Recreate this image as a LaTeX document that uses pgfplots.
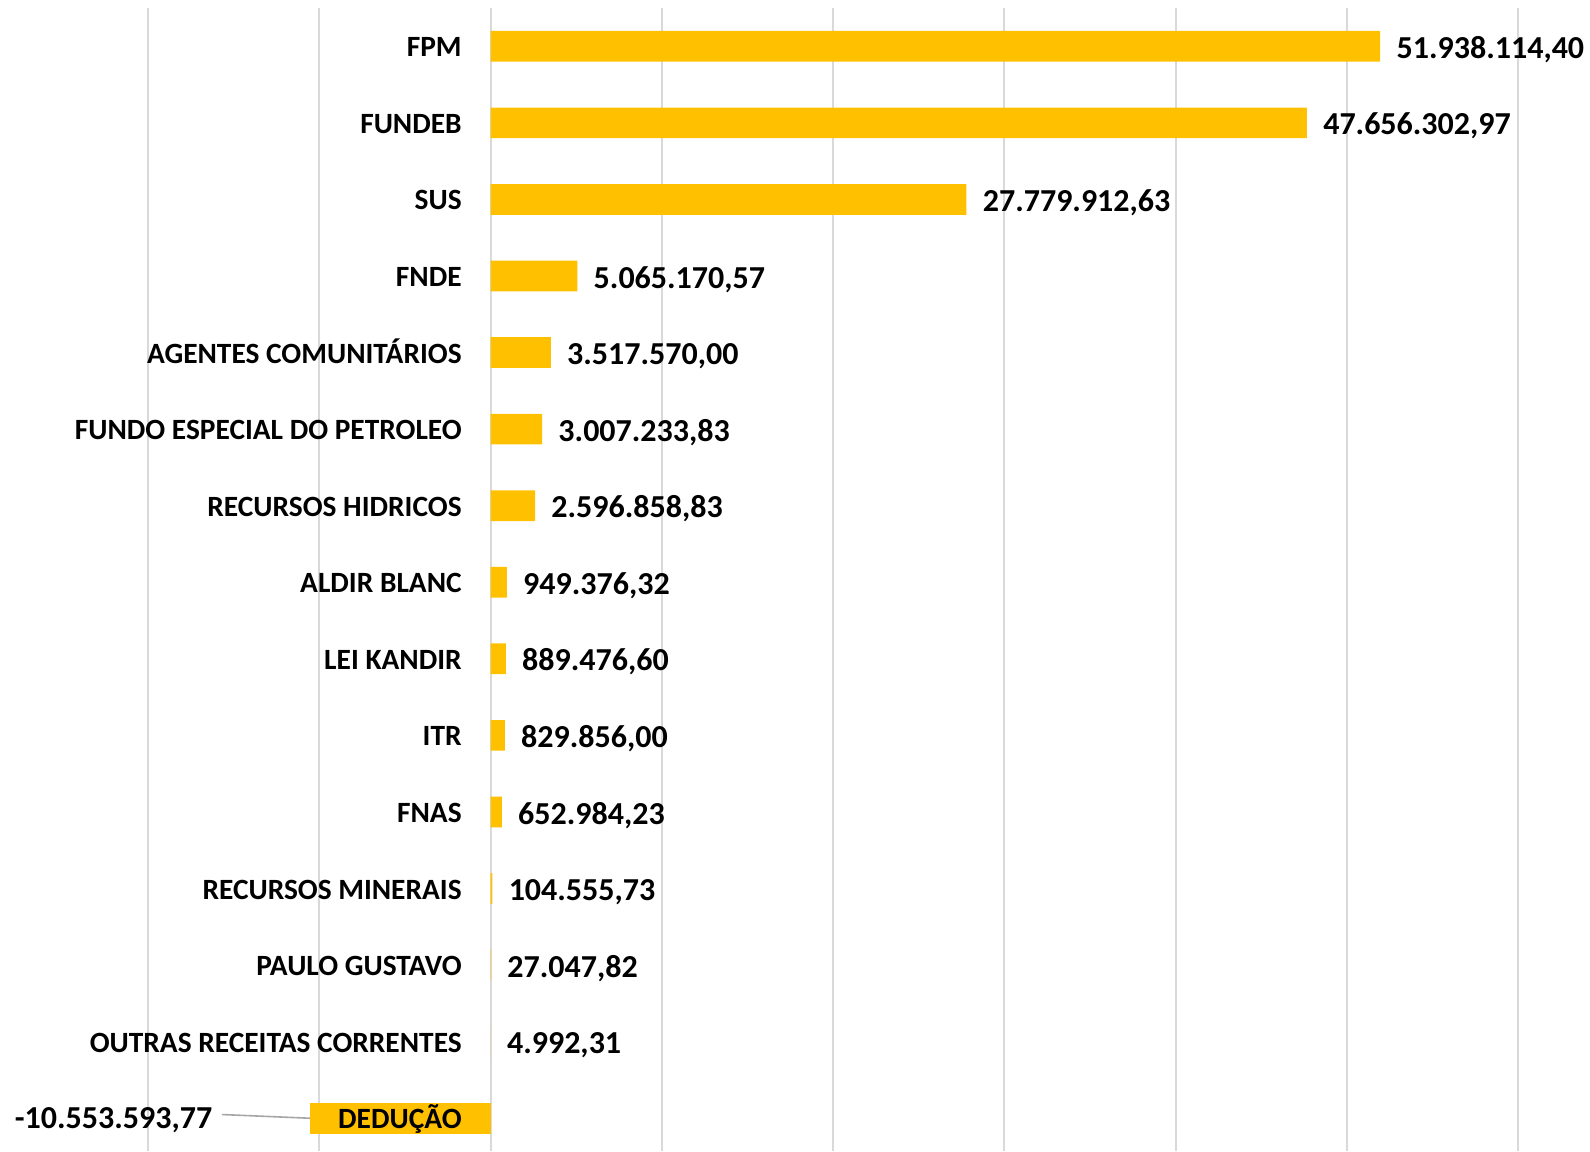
\documentclass[border=0pt]{standalone}
\usepackage{pgfplots}
\usepackage{pgfplotstable}
\pgfplotsset{compat=1.18}
\usepackage{fontspec}
\setmainfont{Carlito}
\definecolor{barc}{HTML}{FFC000}
\definecolor{gridc}{HTML}{D9D9D9}
\definecolor{leadc}{HTML}{A6A6A6}

\pgfplotstableread[col sep=semicolon]{
y;val;lbl
0;51938114.40;51.938.114,40
1;47656302.97;47.656.302,97
2;27779912.63;27.779.912,63
3;5065170.57;5.065.170,57
4;3517570.00;3.517.570,00
5;3007233.83;3.007.233,83
6;2596858.83;2.596.858,83
7;949376.32;949.376,32
8;889476.60;889.476,60
9;829856.00;829.856,00
10;652984.23;652.984,23
11;104555.73;104.555,73
12;27047.82;27.047,82
13;4992.31;4.992,31
}\datapos

\pgfplotstableread[col sep=semicolon]{
y;val;lbl
14;-10553593.77;-10.553.593,77
}\dataneg

\pgfplotstableread[col sep=semicolon]{
y;name
0;FPM
1;FUNDEB
2;SUS
3;FNDE
4;AGENTES COMUNITÁRIOS
5;FUNDO ESPECIAL DO PETROLEO
6;RECURSOS HIDRICOS
7;ALDIR BLANC
8;LEI KANDIR
9;ITR
10;FNAS
11;RECURSOS MINERAIS
12;PAULO GUSTAVO
13;OUTRAS RECEITAS CORRENTES
14;DEDUÇÃO
}\names

\newcommand{\valfont}{\fontsize{16}{19}\selectfont\bfseries}
\newcommand{\catfont}{\fontsize{14.7}{17.5}\selectfont\bfseries}

\begin{document}
\begin{tikzpicture}
\begin{axis}[
  name=ax,
  scale only axis,
  width=685.2pt, height=571.6pt,
  xmin=-20000000, xmax=60000000,
  ymin=-0.5, ymax=14.43,
  y dir=reverse,
  xtick={-20000000,-10000000,0,10000000,20000000,30000000,40000000,50000000,60000000},
  xticklabels={}, ytick=\empty,
  scaled ticks=false,
  xmajorgrids,
  major grid style={draw=gridc, line width=1pt},
  axis line style={draw=none},
  major tick length=0pt,
  clip=false,
]
\addplot[xbar, bar width=15.35pt, fill=barc, draw=none,
  nodes near coords, point meta=explicit symbolic,
  nodes near coords style={anchor=west, inner sep=0pt, xshift=8pt, yshift=-1pt,
    font=\valfont, text height=10.1pt, text depth=0pt, text=black}]
  table[x=val, y=y, meta=lbl]{\datapos};
\addplot[xbar, bar width=15.35pt, fill=barc, draw=none,
  nodes near coords, point meta=explicit symbolic,
  nodes near coords style={anchor=east, inner sep=0pt, xshift=-48.6pt, yshift=0pt,
    font=\valfont, text height=10.1pt, text depth=0pt, text=black}]
  table[x=val, y=y, meta=lbl]{\dataneg};
\addplot[draw=none, mark=none,
  nodes near coords, point meta=explicit symbolic,
  nodes near coords style={anchor=east, inner sep=0pt, xshift=-14.25pt, yshift=-0.5pt,
    font=\catfont, text height=9.5pt, text depth=0pt, text=black}]
  table[x expr=0, y=y, meta=name]{\names};
\draw[leadc, line width=0.8pt] (axis cs:-10553593.77,14) -- ++(-44pt,1.85pt);
\end{axis}
\pgfresetboundingbox
\path ([xshift=-74pt]ax.south west) rectangle ([xshift=35.85pt,yshift=4pt]ax.north east);
\end{tikzpicture}
\end{document}
